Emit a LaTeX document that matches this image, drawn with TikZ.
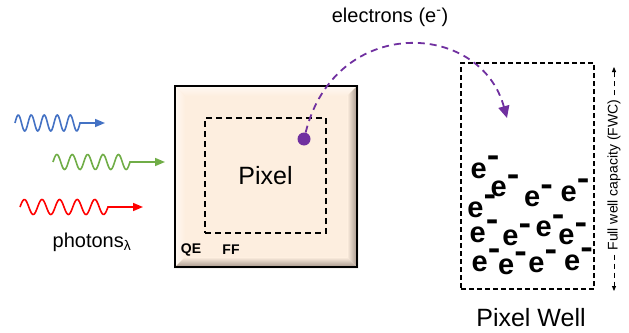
\documentclass[tikz,border=0pt]{standalone}
\usepackage{fontspec}
\setmainfont{Liberation Sans}
\usetikzlibrary{positioning,arrows.meta,calc,backgrounds}
\definecolor{peach}{HTML}{FDEEDF}
\definecolor{bevlight}{HTML}{FFFAF5}
\definecolor{bevdark}{HTML}{9E8E82}
\definecolor{photblue}{HTML}{4472C4}
\definecolor{photgreen}{HTML}{70AD47}
\definecolor{photred}{HTML}{FF0000}
\definecolor{elpurple}{HTML}{7030A0}
\newcommand{\elec}{\textbf{e\raisebox{11.5pt}{\scalebox{1.3}[1.15]{-}}}}

\begin{document}
\begin{tikzpicture}[x=1pt,y=-1pt,
    pixbox/.style={draw,line width=2.2pt,minimum width=182pt,minimum height=181pt,inner sep=0pt},
    pixface/.style={minimum width=162pt,minimum height=161pt,inner sep=0pt},
    sensor/.style={draw,line width=1.3pt,dash pattern=on 6pt off 4pt,minimum width=121pt,
                   minimum height=115pt,inner sep=0pt,font=\fontsize{25}{28}\selectfont},
    well/.style={draw,line width=1.6pt,dash pattern=on 5pt off 3pt,minimum width=133pt,
                 minimum height=226pt,inner sep=0pt},
    lbl/.style={inner sep=0pt,font=\fontsize{20}{24}\selectfont},
    tag/.style={inner sep=0pt,font=\fontsize{14}{16}\selectfont\bfseries},
    elec/.style={inner sep=0pt,anchor=base west,font=\fontsize{29}{30}\selectfont},
    photon/.style={line width=1.6pt,-{Triangle[length=10pt,width=8pt]}},
    eflow/.style={elpurple,line width=1.8pt,dash pattern=on 7pt off 5pt,
                  -{Triangle[length=12pt,width=11pt]}},
    fwcarrow/.style={line width=0.8pt,dash pattern=on 5pt off 4pt,-{Triangle[length=5pt,width=4pt]}}
  ]
  \useasboundingbox (0,0) rectangle (629,332);

  % Photons
  \coordinate (blue0) at (15,123);
  \coordinate (blue1) at (105,123);
  \coordinate (green0) at (53,162);
  \coordinate (green1) at (165,162);
  \coordinate (red0) at (20,207);
  \coordinate (red1) at (143,207);
  \draw[photon,photblue,shift={(blue0)}] plot[domain=0:65,samples=90,smooth]
    (\x,{-8*sin(\x*27.692)}) -- (blue1);
  \draw[photon,photgreen,shift={(green0)}] plot[domain=0:77,samples=100,smooth]
    (\x,{-7.5*sin(\x*23.377)}) -- (green1);
  \draw[photon,photred,shift={(red0)}] plot[domain=0:88,samples=110,smooth]
    (\x,{-7.5*sin(\x*20.455)}) -- (red1);
  \node[lbl] (photons) at (92,242) {photons\textsubscript{λ}};

  % Pixel
  \node[pixbox] (pixel) at (266,176.5) {};
  \node[pixface] (face) at (pixel.center) {};
  \begin{scope}[on background layer]
    \fill[peach] (pixel.north west) rectangle (pixel.south east);
    \shade[top color=bevlight,bottom color=peach] (pixel.north west) -- (pixel.north east)
      -- (face.north east) -- (face.north west) -- cycle;
    \shade[left color=bevlight,right color=peach] (pixel.north west) -- (face.north west)
      -- (face.south west) -- (pixel.south west) -- cycle;
    \shade[left color=peach,right color=bevdark] (pixel.north east) -- (face.north east)
      -- (face.south east) -- (pixel.south east) -- cycle;
    \shade[top color=peach,bottom color=bevdark] (pixel.south west) -- (face.south west)
      -- (face.south east) -- (pixel.south east) -- cycle;
  \end{scope}
  \node[sensor] (sensor) at (265.5,175.5) {Pixel};
  \node[tag] (qe) at (191,250) {QE};
  \node[tag] (ff) at (231,250) {FF};
  \node[circle,fill=elpurple,minimum size=13pt,inner sep=0pt] (dot) at (304,139) {};

  % Electrons
  \node[lbl] (electrons) at (390,17) {electrons (e\textsuperscript{-})};
  \coordinate (drop) at (507,118);
  \draw[eflow] (dot) .. controls (335,15) and (480,20) .. (drop);

  % Pixel well
  \node[well] (well) at (527.5,176) {};
  \node[inner sep=0pt,font=\fontsize{25}{28}\selectfont] (wellname) at (531,318) {Pixel Well};
  \node[elec] (e1) at (470.5,178) {\elec};
  \node[elec] (e2) at (490.5,196.6) {\elec};
  \node[elec] (e3) at (524,206.6) {\elec};
  \node[elec] (e4) at (560.5,201.3) {\elec};
  \node[elec] (e5) at (467.2,217.3) {\elec};
  \node[elec] (e6) at (469.5,242.3) {\elec};
  \node[elec] (e7) at (502.2,245.6) {\elec};
  \node[elec] (e8) at (535.5,236.6) {\elec};
  \node[elec] (e9) at (558.2,244.6) {\elec};
  \node[elec] (e10) at (471.5,271.3) {\elec};
  \node[elec] (e11) at (498,274) {\elec};
  \node[elec] (e12) at (528.2,272.3) {\elec};
  \node[elec] (e13) at (564,270) {\elec};

  % FWC
  \node[rotate=90,inner sep=4pt,font=\fontsize{14}{16}\selectfont] (fwc) at (614,175) {Full well capacity (FWC)};
  \coordinate (fwctop) at (614,67);
  \coordinate (fwcbot) at (614,291);
  \draw[fwcarrow] (fwc.east) -- (fwctop);
  \draw[fwcarrow] (fwc.west) -- (fwcbot);
\end{tikzpicture}
\end{document}
